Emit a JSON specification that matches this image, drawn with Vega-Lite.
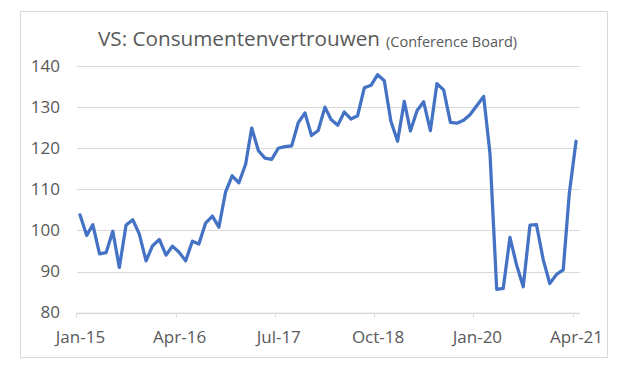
{
  "$schema": "https://vega.github.io/schema/vega-lite/v6.json",
  "autosize": {"type": "none"},
  "width": 587,
  "height": 346,
  "padding": {"left": 20, "top": 11, "right": 18, "bottom": 20},
  "background": "white",
  "config": {
    "view": {"stroke": "#d9d9d9", "strokeWidth": 1},
    "font": "Open Sans"
  },
  "title": {
    "text": "VS: Consumentenvertrouwen",
    "subtitle": "(Conference Board)",
    "anchor": "start",
    "frame": "group",
    "orient": "top",
    "font": "Open Sans",
    "fontSize": 20.7,
    "fontWeight": "normal",
    "color": "#595959",
    "subtitleFont": "Open Sans",
    "subtitleFontSize": 14.5,
    "subtitleColor": "#595959",
    "subtitlePadding": 0,
    "baseline": "alphabetic",
    "offset": -56,
    "encode": {
      "title": {"update": {"dx": {"value": 78}}},
      "subtitle": {"update": {"dx": {"value": 366}, "dy": {"value": -20}}}
    }
  },
  "data": {
    "values": [
      {"date": "2015-01-01", "value": 103.8}, {"date": "2015-02-01", "value": 98.8}, {"date": "2015-03-01", "value": 101.4},
      {"date": "2015-04-01", "value": 94.3}, {"date": "2015-05-01", "value": 94.6}, {"date": "2015-06-01", "value": 99.8},
      {"date": "2015-07-01", "value": 91.0}, {"date": "2015-08-01", "value": 101.3}, {"date": "2015-09-01", "value": 102.6},
      {"date": "2015-10-01", "value": 99.1}, {"date": "2015-11-01", "value": 92.6}, {"date": "2015-12-01", "value": 96.3},
      {"date": "2016-01-01", "value": 97.8}, {"date": "2016-02-01", "value": 94.0}, {"date": "2016-03-01", "value": 96.2},
      {"date": "2016-04-01", "value": 94.7}, {"date": "2016-05-01", "value": 92.6}, {"date": "2016-06-01", "value": 97.4},
      {"date": "2016-07-01", "value": 96.7}, {"date": "2016-08-01", "value": 101.8}, {"date": "2016-09-01", "value": 103.5},
      {"date": "2016-10-01", "value": 100.8}, {"date": "2016-11-01", "value": 109.4}, {"date": "2016-12-01", "value": 113.3},
      {"date": "2017-01-01", "value": 111.6}, {"date": "2017-02-01", "value": 116.1}, {"date": "2017-03-01", "value": 124.9},
      {"date": "2017-04-01", "value": 119.4}, {"date": "2017-05-01", "value": 117.6}, {"date": "2017-06-01", "value": 117.3},
      {"date": "2017-07-01", "value": 120.0}, {"date": "2017-08-01", "value": 120.4}, {"date": "2017-09-01", "value": 120.6},
      {"date": "2017-10-01", "value": 126.2}, {"date": "2017-11-01", "value": 128.6}, {"date": "2017-12-01", "value": 123.1},
      {"date": "2018-01-01", "value": 124.3}, {"date": "2018-02-01", "value": 130.0}, {"date": "2018-03-01", "value": 127.0},
      {"date": "2018-04-01", "value": 125.6}, {"date": "2018-05-01", "value": 128.8}, {"date": "2018-06-01", "value": 127.1},
      {"date": "2018-07-01", "value": 127.9}, {"date": "2018-08-01", "value": 134.7}, {"date": "2018-09-01", "value": 135.3},
      {"date": "2018-10-01", "value": 137.9}, {"date": "2018-11-01", "value": 136.4}, {"date": "2018-12-01", "value": 126.6},
      {"date": "2019-01-01", "value": 121.7}, {"date": "2019-02-01", "value": 131.4}, {"date": "2019-03-01", "value": 124.2},
      {"date": "2019-04-01", "value": 129.2}, {"date": "2019-05-01", "value": 131.3}, {"date": "2019-06-01", "value": 124.3},
      {"date": "2019-07-01", "value": 135.7}, {"date": "2019-08-01", "value": 134.2}, {"date": "2019-09-01", "value": 126.3},
      {"date": "2019-10-01", "value": 126.1}, {"date": "2019-11-01", "value": 126.8}, {"date": "2019-12-01", "value": 128.2},
      {"date": "2020-01-01", "value": 130.4}, {"date": "2020-02-01", "value": 132.6}, {"date": "2020-03-01", "value": 118.8},
      {"date": "2020-04-01", "value": 85.7}, {"date": "2020-05-01", "value": 85.9}, {"date": "2020-06-01", "value": 98.3},
      {"date": "2020-07-01", "value": 91.7}, {"date": "2020-08-01", "value": 86.3}, {"date": "2020-09-01", "value": 101.3},
      {"date": "2020-10-01", "value": 101.4}, {"date": "2020-11-01", "value": 92.9}, {"date": "2020-12-01", "value": 87.1},
      {"date": "2021-01-01", "value": 89.3}, {"date": "2021-02-01", "value": 90.4}, {"date": "2021-03-01", "value": 109.0},
      {"date": "2021-04-01", "value": 121.7}
    ]
  },
  "mark": {"type": "line", "color": "#4472C4", "strokeWidth": 3.25, "strokeJoin": "round", "strokeCap": "round"},
  "encoding": {
    "x": {
      "field": "date",
      "type": "temporal",
      "scale": {
        "type": "utc",
        "domain": [{"year": 2014, "month": 12, "date": 16, "utc": true}, {"year": 2021, "month": 4, "date": 16, "utc": true}],
        "range": [56.5, 559.3]
      },
      "axis": {
        "orient": "bottom",
        "offset": -44.3,
        "title": null,
        "grid": false,
        "values": [
          {"year": 2015, "month": 1, "date": 1, "utc": true},
          {"year": 2016, "month": 4, "date": 1, "utc": true},
          {"year": 2017, "month": 7, "date": 1, "utc": true},
          {"year": 2018, "month": 10, "date": 1, "utc": true},
          {"year": 2020, "month": 1, "date": 1, "utc": true},
          {"year": 2021, "month": 4, "date": 1, "utc": true}
        ],
        "labelExpr": "utcFormat(datum.value, '%b-%y')",
        "domainColor": "#d9d9d9",
        "domainWidth": 1,
        "tickColor": "#d9d9d9",
        "tickSize": 4,
        "tickOffset": -3.5,
        "labelOffset": 3.5,
        "labelPadding": 12.6,
        "labelFont": "Open Sans",
        "labelFontSize": 17,
        "labelColor": "#595959",
        "labelFlush": false,
        "labelOverlap": false
      }
    },
    "y": {
      "field": "value",
      "type": "quantitative",
      "scale": {"domain": [80, 140], "range": [301.7, 55], "nice": false, "zero": false},
      "axis": {
        "orient": "left",
        "offset": -56.5,
        "title": null,
        "values": [80, 90, 100, 110, 120, 130, 140],
        "domain": false,
        "ticks": false,
        "tickSize": 0,
        "labelPadding": 17,
        "grid": true,
        "gridColor": "#d9d9d9",
        "gridWidth": 1,
        "labelFont": "Open Sans",
        "labelFontSize": 17,
        "labelColor": "#595959"
      }
    }
  }
}
